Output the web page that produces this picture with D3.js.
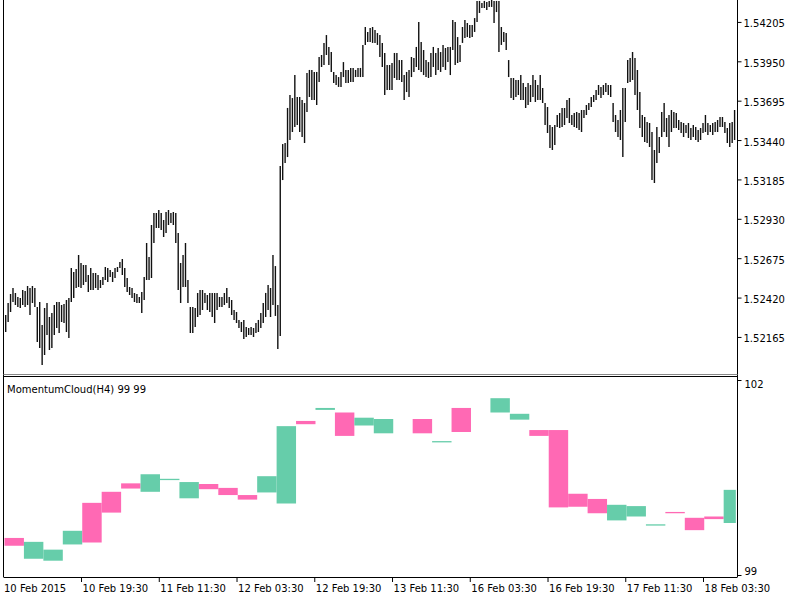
<!DOCTYPE html>
<html><head><meta charset="utf-8">
<script src="https://cdn.jsdelivr.net/npm/d3@7"></script>
<style>
body{margin:0;background:#fff}
svg{display:block}
text{font-family:"DejaVu Sans",sans-serif;font-size:10px;fill:#000}
</style>
</head><body>
<svg id="c" width="800" height="600"></svg>
<script>
// ---- price bars (M30), high / low ----
const highs = [
1.52307,1.52385,1.52443,1.52482,1.52450,1.52424,1.52417,1.52469,1.52462,1.52495,
1.52482,1.52495,1.52482,1.52359,1.52391,1.52242,1.52352,1.52385,1.52294,1.52320,
1.52372,1.52391,1.52391,1.52372,1.52378,1.52404,1.52417,1.52611,1.52586,1.52605,
1.52696,1.52644,1.52631,1.52631,1.52566,1.52611,1.52579,1.52579,1.52566,1.52534,
1.52553,1.52618,1.52611,1.52598,1.52586,1.52611,1.52618,1.52650,1.52670,1.52611,
1.52547,1.52488,1.52482,1.52450,1.52443,1.52424,1.52456,1.52553,1.52773,1.52683,
1.52890,1.52968,1.52968,1.52987,1.52968,1.52922,1.52974,1.52987,1.52968,1.52974,
1.52968,1.52838,1.52644,1.52696,1.52773,1.52534,1.52359,1.52359,1.52352,1.52450,
1.52469,1.52469,1.52450,1.52437,1.52450,1.52450,1.52450,1.52450,1.52424,1.52424,
1.52450,1.52482,1.52424,1.52404,1.52339,1.52326,1.52275,1.52262,1.52275,1.52229,
1.52223,1.52229,1.52223,1.52255,1.52275,1.52320,1.52385,1.52450,1.52501,1.52482,
1.52696,1.52624,1.52372,1.53272,1.53414,1.53421,1.53648,1.53732,1.53712,1.53861,
1.53719,1.53719,1.53699,1.53680,1.53874,1.53894,1.53894,1.53881,1.53881,1.53978,
1.53991,1.54069,1.54120,1.54043,1.54010,1.53881,1.53861,1.53848,1.53881,1.53945,
1.53894,1.53894,1.53907,1.53907,1.53894,1.53907,1.53907,1.54056,1.54172,1.54140,
1.54166,1.54172,1.54153,1.54133,1.54120,1.54069,1.54004,1.53926,1.53926,1.53939,
1.54004,1.54004,1.53958,1.53958,1.53861,1.53881,1.53894,1.53978,1.53971,1.54043,
1.54205,1.54075,1.54023,1.53958,1.53945,1.54004,1.54043,1.54004,1.54036,1.54010,
1.54056,1.54036,1.54043,1.54043,1.54217,1.54205,1.54107,1.54056,1.54172,1.54217,
1.54198,1.54185,1.54185,1.54230,1.54341,1.54341,1.54328,1.54341,1.54334,1.54341,
1.54347,1.54341,1.54341,1.54341,1.54172,1.54140,1.54133,1.53958,1.53842,1.53842,
1.53829,1.53829,1.53861,1.53809,1.53784,1.53809,1.53797,1.53861,1.53829,1.53797,
1.53861,1.53777,1.53680,1.53654,1.53537,1.53525,1.53537,1.53602,1.53615,1.53648,
1.53648,1.53699,1.53712,1.53602,1.53615,1.53622,1.53615,1.53635,1.53635,1.53667,
1.53680,1.53719,1.53732,1.53764,1.53797,1.53784,1.53797,1.53809,1.53797,1.53797,
1.53680,1.53602,1.53570,1.53635,1.53777,1.53777,1.53958,1.53971,1.54010,1.53971,
1.53894,1.53751,1.53602,1.53589,1.53557,1.53550,1.53492,1.53376,1.53525,1.53460,
1.53622,1.53680,1.53583,1.53602,1.53635,1.53622,1.53615,1.53570,1.53557,1.53550,
1.53537,1.53550,1.53518,1.53537,1.53525,1.53505,1.53518,1.53550,1.53602,1.53550,
1.53537,1.53550,1.53557,1.53570,1.53589,1.53589,1.53557,1.53518,1.53550,1.53557,
1.53635
];
const lows = [
1.52197,1.52262,1.52326,1.52391,1.52372,1.52359,1.52352,1.52372,1.52359,1.52372,
1.52307,1.52385,1.52359,1.52132,1.52093,1.51983,1.52048,1.52178,1.52080,1.52093,
1.52178,1.52223,1.52190,1.52262,1.52255,1.52197,1.52158,1.52391,1.52417,1.52482,
1.52488,1.52482,1.52501,1.52521,1.52456,1.52469,1.52469,1.52482,1.52469,1.52482,
1.52501,1.52534,1.52521,1.52553,1.52521,1.52547,1.52586,1.52611,1.52566,1.52488,
1.52456,1.52437,1.52417,1.52391,1.52385,1.52385,1.52320,1.52404,1.52534,1.52534,
1.52547,1.52773,1.52870,1.52870,1.52858,1.52812,1.52838,1.52890,1.52903,1.52890,
1.52773,1.52469,1.52385,1.52488,1.52488,1.52385,1.52190,1.52190,1.52229,1.52294,
1.52307,1.52339,1.52385,1.52339,1.52326,1.52294,1.52255,1.52339,1.52359,1.52359,
1.52372,1.52385,1.52352,1.52307,1.52275,1.52255,1.52223,1.52197,1.52152,1.52165,
1.52178,1.52178,1.52165,1.52190,1.52197,1.52223,1.52255,1.52294,1.52339,1.52294,
1.52372,1.52301,1.52087,1.52171,1.53181,1.53291,1.53330,1.53440,1.53492,1.53525,
1.53537,1.53492,1.53460,1.53421,1.53622,1.53719,1.53699,1.53699,1.53667,1.53816,
1.53913,1.53926,1.53991,1.53926,1.53881,1.53809,1.53797,1.53784,1.53784,1.53848,
1.53809,1.53809,1.53816,1.53816,1.53848,1.53848,1.53848,1.53848,1.54056,1.54075,
1.54075,1.54069,1.54069,1.54056,1.53978,1.53913,1.53732,1.53764,1.53764,1.53764,
1.53842,1.53829,1.53829,1.53816,1.53699,1.53751,1.53719,1.53848,1.53881,1.53913,
1.53894,1.53881,1.53861,1.53848,1.53842,1.53848,1.53913,1.53861,1.53894,1.53881,
1.53913,1.53894,1.53945,1.53861,1.54023,1.53926,1.53939,1.53945,1.54069,1.54101,
1.54107,1.54101,1.54107,1.54140,1.54205,1.54263,1.54295,1.54295,1.54282,1.54302,
1.54302,1.54198,1.54269,1.54010,1.54056,1.54075,1.54023,1.53848,1.53712,1.53699,
1.53719,1.53732,1.53699,1.53699,1.53648,1.53667,1.53686,1.53719,1.53686,1.53699,
1.53699,1.53680,1.53537,1.53486,1.53389,1.53376,1.53408,1.53525,1.53518,1.53525,
1.53537,1.53583,1.53550,1.53537,1.53525,1.53518,1.53505,1.53492,1.53583,1.53602,
1.53635,1.53654,1.53686,1.53699,1.53732,1.53712,1.53732,1.53751,1.53732,1.53719,
1.53557,1.53492,1.53460,1.53440,1.53330,1.53557,1.53809,1.53816,1.53829,1.53732,
1.53635,1.53518,1.53460,1.53427,1.53421,1.53395,1.53181,1.53162,1.53291,1.53356,
1.53460,1.53492,1.53460,1.53395,1.53492,1.53518,1.53518,1.53505,1.53486,1.53460,
1.53486,1.53453,1.53440,1.53460,1.53440,1.53427,1.53440,1.53486,1.53492,1.53473,
1.53492,1.53473,1.53492,1.53492,1.53525,1.53525,1.53486,1.53421,1.53395,1.53421,
1.53440
];
const priceTicks = [1.52165,1.52420,1.52675,1.52930,1.53185,1.53440,1.53695,1.53950,1.54205];

// ---- time axis ----
const timeLabels = ["10 Feb 2015","10 Feb 19:30","11 Feb 11:30","12 Feb 03:30","12 Feb 19:30",
                    "13 Feb 11:30","16 Feb 03:30","16 Feb 19:30","17 Feb 11:30","18 Feb 03:30"];
const timeTickBars = [0,31,63,95,127,159,191,223,255,287];

// ---- MomentumCloud(H4): one value pair per H4 block (8 M30 bars) ----
const momA = [99.57,99.25,99.22,99.47,100.11,100.28,100.41,100.28,100.46,100.18,
              100.40,100.34,100.23,100.27,100.10,101.37,101.54,101.50,101.30,101.18,
              null,101.40,101.04,101.57,null,101.50,101.39,101.23,101.23,100.25,
              100.17,99.84,99.90,99.76,99.97,99.88,99.90,99.80];
const momB = [99.45,99.51,99.39,99.68,99.50,99.96,100.33,100.55,100.48,100.43,
              100.32,100.23,100.16,100.52,101.29,101.32,101.57,101.14,101.42,101.40,
              null,101.18,101.06,101.20,null,101.72,101.48,101.14,100.04,100.05,
              99.95,100.08,100.06,99.78,99.95,99.69,99.86,100.31];
const momTicks = [99,102];
const indicatorTitle = "MomentumCloud(H4) 99 99";
const barsPerBlock = 8;

// ---- layout ----
const svg = d3.select("#c");
const L = 3.5, R = 737.5, paneTopBottom = 374, paneBotTop = 377, paneBotBottom = 577;
const nBars = highs.length;
const x = d3.scaleLinear().domain([0, nBars - 1]).range([5.7, 734.6]);
const step = x(1) - x(0);
const yP = d3.scaleLinear().domain([1.51925, 1.54347]).range([paneTopBottom, 0]);
const yM = d3.scaleLinear().domain([99, 102]).range([575, 380]);

svg.append("defs").append("clipPath").attr("id","clipTop")
  .append("rect").attr("x",L).attr("y",0).attr("width",R-L).attr("height",paneTopBottom);
svg.append("defs").append("clipPath").attr("id","clipBot")
  .append("rect").attr("x",L).attr("y",paneBotTop).attr("width",R-L).attr("height",paneBotBottom-paneBotTop);

// price bars
svg.append("g").attr("clip-path","url(#clipTop)")
  .selectAll("line").data(d3.range(nBars)).join("line")
  .attr("x1", i => x(i)).attr("x2", i => x(i))
  .attr("y1", i => yP(highs[i])).attr("y2", i => yP(lows[i]))
  .attr("stroke", "#111").attr("stroke-width", 1.4);

// momentum cloud blocks
const blocks = momA.map((a, j) => ({j, a, b: momB[j]})).filter(d => d.a != null && d.b != null);
const pink = "#FF69B4", green = "#66CDAA";
svg.append("g").attr("clip-path","url(#clipBot)")
  .selectAll("rect").data(blocks).join("rect")
  .attr("x", d => x(d.j * barsPerBlock) - step / 2)
  .attr("width", d => x(Math.min(d.j * barsPerBlock + barsPerBlock - 1, nBars - 1)) - x(d.j * barsPerBlock) + step)
  .attr("y", d => yM(Math.max(d.a, d.b)))
  .attr("height", d => Math.max(1.2, yM(Math.min(d.a, d.b)) - yM(Math.max(d.a, d.b))))
  .attr("fill", d => d.a > d.b ? pink : green);

// frames
const fr = svg.append("g").attr("fill","none");
fr.append("line").attr("x1",L).attr("x2",L).attr("y1",0).attr("y2",paneBotBottom).attr("stroke","#000");
fr.append("line").attr("x1",R).attr("x2",R).attr("y1",0).attr("y2",paneBotBottom).attr("stroke","#000");
fr.append("line").attr("x1",L).attr("x2",R).attr("y1",374.5).attr("y2",374.5).attr("stroke","#888");
fr.append("line").attr("x1",L).attr("x2",R).attr("y1",376.5).attr("y2",376.5).attr("stroke","#000");
fr.append("line").attr("x1",L).attr("x2",R).attr("y1",paneBotBottom+0.5).attr("y2",paneBotBottom+0.5).attr("stroke","#000");

// price axis
const pa = svg.append("g").attr("transform",`translate(${R},0)`)
  .call(d3.axisRight(yP).tickValues(priceTicks).tickSize(4).tickSizeOuter(0).tickPadding(2).tickFormat(d3.format(".5f")));
pa.select(".domain").remove();
pa.selectAll("text").attr("dy","0.5em").style("font-family",'"DejaVu Sans",sans-serif').style("font-size","10px");
pa.selectAll("line").attr("stroke","#000");

// momentum axis
const ma = svg.append("g").attr("transform",`translate(${R},0)`)
  .call(d3.axisRight(yM).tickValues(momTicks).tickSize(4).tickSizeOuter(0).tickPadding(3).tickFormat(d3.format("d")));
ma.select(".domain").remove();
ma.selectAll("text").attr("dy", d => d === 102 ? "0.75em" : "-0.1em")
  .style("font-family",'"DejaVu Sans",sans-serif').style("font-size","10px");

// time axis
const ta = svg.append("g").attr("transform",`translate(0,${paneBotBottom})`)
  .call(d3.axisBottom(x).tickValues(timeTickBars.slice(1)).tickSize(5).tickSizeOuter(0).tickPadding(3)
    .tickFormat((d) => timeLabels[timeTickBars.indexOf(d)]));
ta.select(".domain").remove();
ta.selectAll("text").attr("text-anchor","start").attr("x",1)
  .style("font-family",'"DejaVu Sans",sans-serif').style("font-size","10px");
svg.append("text").attr("x",4).attr("y",paneBotBottom + 15).text(timeLabels[0]);

// indicator title
svg.append("text").attr("x",7).attr("y",393).text(indicatorTitle);
</script>
</body></html>
